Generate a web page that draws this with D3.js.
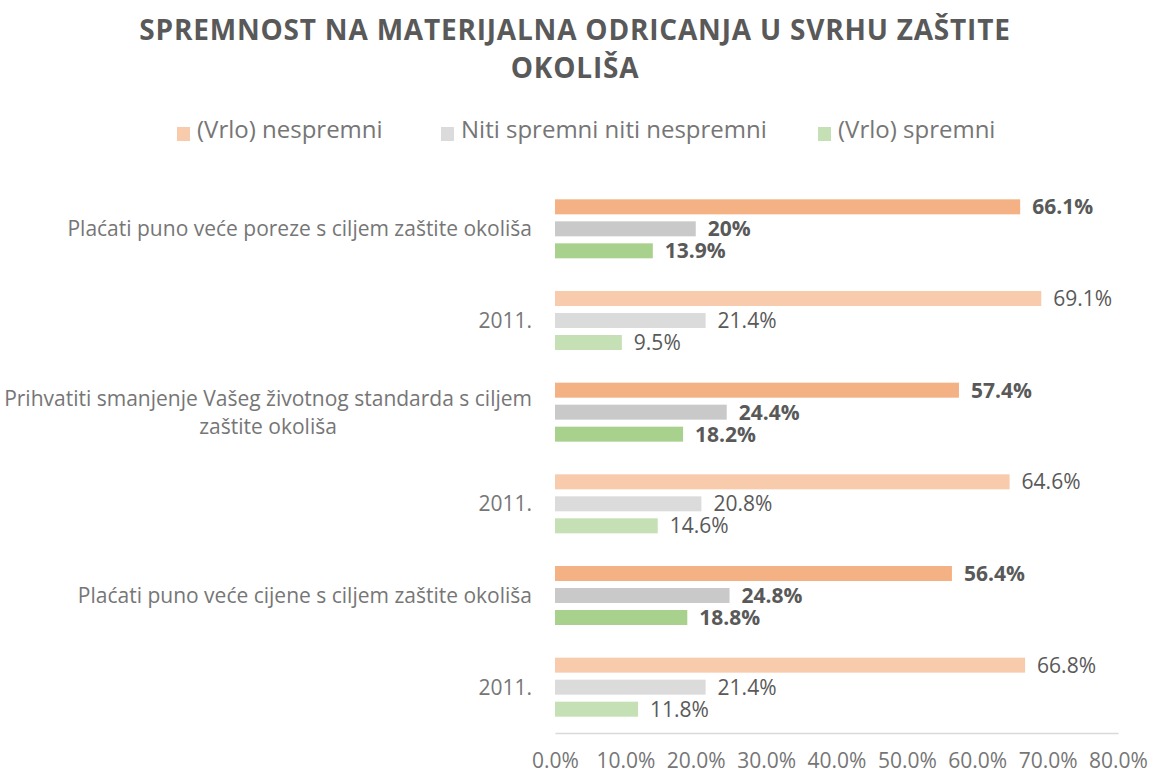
<!DOCTYPE html>
<html>
<head>
<meta charset="utf-8">
<script src="https://cdn.jsdelivr.net/npm/d3@7"></script>
<style>
  body { margin: 0; background: #fff; }
  text { font-family: 'Open Sans', sans-serif; }
</style>
</head>
<body>
<svg id="canvas"></svg>
<script>
// chart data
const titleLines = ['SPREMNOST NA MATERIJALNA ODRICANJA U SVRHU ZAŠTITE', 'OKOLIŠA']
const categories = [
    'Plaćati puno veće poreze s ciljem zaštite okoliša',
    '2011.',
    'Prihvatiti smanjenje Vašeg životnog standarda s ciljem zaštite okoliša',
    '2011.',
    'Plaćati puno veće cijene s ciljem zaštite okoliša',
    '2011.'
]
const seriesNames = ['(Vrlo) nespremni', 'Niti spremni niti nespremni', '(Vrlo) spremni']
const nespremni = [66.1, 69.1, 57.4, 64.6, 56.4, 66.8]
const niti = [20, 21.4, 24.4, 20.8, 24.8, 21.4]
const spremni = [13.9, 9.5, 18.2, 14.6, 18.8, 11.8]
const ticks = [0, 10, 20, 30, 40, 50, 60, 70, 80]

// current survey colours vs. 2011 (lighter)
const colorsNow = ['#F4B183', '#C9C9C9', '#A9D18E']
const colors2011 = ['#F8CBAD', '#DBDBDB', '#C5E0B4']
const textColor = '#595959'
const softText = '#767676'

const W = 1150, H = 774
const svg = d3.select('#canvas').attr('width', W).attr('height', H)

const is2011 = i => categories[i] === '2011.'
const values = [nespremni, niti, spremni]

const x = d3.scaleLinear().domain([0, 80]).range([555, 1118])
const y = d3.scaleBand().domain(d3.range(categories.length)).range([183, 733])
const yInner = d3.scaleBand().domain(d3.range(3)).range([0, 59]).paddingInner(7 / 22)

// title
svg.append('g').selectAll('text')
    .data(titleLines)
    .enter()
    .append('text')
        .attr('x', 575)
        .attr('y', (d, i) => 40 + i * 38)
        .attr('text-anchor', 'middle')
        .attr('font-size', 28)
        .attr('font-weight', 'bold')
        .attr('letter-spacing', 0.8)
        .attr('fill', textColor)
        .text(d => d)

// legend
const legendX = [177, 441, 818]
const legend = svg.append('g').selectAll('g')
    .data(seriesNames)
    .enter()
    .append('g')
        .attr('transform', (d, i) => `translate(${legendX[i]}, 130)`)
legend.append('rect')
    .attr('x', 0).attr('y', -3)
    .attr('width', 13).attr('height', 14)
    .attr('fill', (d, i) => colors2011[i])
legend.append('text')
    .attr('x', 20)
    .attr('dy', '0.35em')
    .attr('font-size', 24)
    .attr('fill', softText)
    .text(d => d)

// bars
const groups = svg.append('g').selectAll('g')
    .data(categories)
    .enter()
    .append('g')
        .attr('transform', (d, i) => `translate(0, ${y(i) + y.bandwidth() / 2 - 29.5})`)

groups.each(function (cat, ci) {
    const g = d3.select(this)
    const rows = values.map((arr, si) => ({ si, v: arr[ci] }))
    g.selectAll('rect')
        .data(rows)
        .enter()
        .append('rect')
            .attr('x', x(0))
            .attr('y', d => yInner(d.si))
            .attr('width', d => x(d.v) - x(0))
            .attr('height', yInner.bandwidth())
            .attr('fill', d => is2011(ci) ? colors2011[d.si] : colorsNow[d.si])
    g.selectAll('text')
        .data(rows)
        .enter()
        .append('text')
            .attr('x', d => x(d.v) + 12)
            .attr('y', d => yInner(d.si) + yInner.bandwidth() / 2)
            .attr('dy', '0.35em')
            .attr('font-size', 21)
            .attr('font-weight', is2011(ci) ? 'normal' : 'bold')
            .attr('fill', textColor)
            .text(d => d.v + '%')
})

// category labels, wrapped and centred like the original
const labelRight = 532
const catG = svg.append('g')
categories.forEach((cat, i) => {
    const fs = 21
    const words = cat.split(' ')
    const lines = []
    let line = []
    const probe = catG.append('text').attr('font-size', fs)
    words.forEach(w => {
        line.push(w)
        probe.text(line.join(' '))
        if (probe.node().getComputedTextLength() > 530 && line.length > 1) {
            line.pop()
            lines.push(line.join(' '))
            line = [w]
        }
    })
    lines.push(line.join(' '))
    const widths = lines.map(l => { probe.text(l); return probe.node().getComputedTextLength() })
    probe.remove()
    const maxW = d3.max(widths)
    const cy = y(i) + y.bandwidth() / 2
    const lh = 28
    lines.forEach((l, li) => {
        catG.append('text')
            .attr('x', labelRight - maxW / 2)
            .attr('y', cy + (li - (lines.length - 1) / 2) * lh)
            .attr('dy', '0.35em')
            .attr('text-anchor', 'middle')
            .attr('font-size', fs)
            .attr('fill', softText)
            .text(l)
    })
})

// x axis
const axis = d3.axisBottom(x).tickValues(ticks).tickSize(0).tickPadding(20)
    .tickFormat(d => d.toFixed(1) + '%')
const ax = svg.append('g').attr('transform', 'translate(0, 733)').call(axis)
ax.select('.domain').attr('stroke', '#D9D9D9').attr('stroke-width', 1.5)
ax.selectAll('text')
    .attr('font-size', 21)
    .attr('fill', softText)
    .attr('font-family', "'Open Sans', sans-serif")
</script>
</body>
</html>
